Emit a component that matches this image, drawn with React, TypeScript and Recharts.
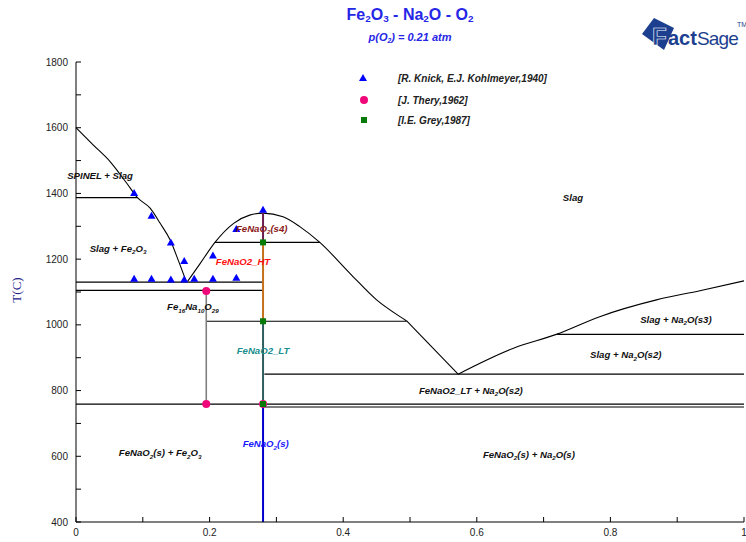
import React from "react";
import { ComposedChart, Line, Scatter, XAxis, YAxis } from "recharts";

type Pt = [number, number];

const xTicks = [0, 0.1, 0.2, 0.3, 0.4, 0.5, 0.6, 0.7, 0.8, 0.9, 1];
const yTicks = [400, 500, 600, 700, 800, 900, 1000, 1100, 1200, 1300, 1400, 1500, 1600, 1700, 1800];

// liquidus branches
const liquidusLeft: Pt[] = [
  [0, 1600], [0.026, 1547], [0.051, 1497], [0.076, 1431], [0.092, 1387],
  [0.111, 1355], [0.126, 1309], [0.141, 1258], [0.153, 1197], [0.165, 1132],
];
const liquidusMid: Pt[] = [
  [0.167, 1132], [0.186, 1187], [0.208, 1251], [0.236, 1309], [0.26, 1334],
  [0.28, 1340], [0.31, 1329], [0.335, 1299], [0.365, 1251], [0.41, 1157],
  [0.45, 1076], [0.485, 1025], [0.495, 1012],
];
const liquidusDip: Pt[] = [[0.495, 1012], [0.572, 850]];
const liquidusRight: Pt[] = [
  [0.572, 850], [0.655, 929], [0.719, 971], [0.784, 1025], [0.869, 1076],
  [0.934, 1104], [1, 1134],
];

// tie lines: [from x, to x, T]
const tieLines: [number, number, number][] = [
  [0, 0.092, 1387],
  [0, 0.28, 1130],
  [0, 0.28, 1105],
  [0.208, 0.365, 1251],
  [0.195, 0.495, 1011],
  [0.72, 1, 971],
  [0.282, 1, 850],
  [0, 1, 759],
  [0.282, 1, 750],
];

// Fe16Na10O29 line
const fe16X = 0.195;
const fe16T: [number, number] = [1105, 759];

// FeNaO2 compound line, split by phase
const fenao2X = 0.28;
const fenao2Levels = [1340, 1251, 1011, 759, 400];
const fenao2Colors = ["#6b1d4f", "#c4701c", "#2f5e5e", "#0000cc"];

// experimental data
const knickX = [0.087, 0.113, 0.142, 0.162, 0.205, 0.24, 0.28, 0.087, 0.113, 0.142, 0.162, 0.177, 0.205, 0.24];
const knickT = [1401, 1332, 1251, 1194, 1211, 1292, 1350, 1140, 1140, 1138, 1138, 1140, 1140, 1143];
const theryX = [0.195, 0.195, 0.28];
const theryT = [1103, 759, 759];
const greyX = [0.28, 0.28, 0.28];
const greyT = [1251, 1011, 759];

// region labels, {n} = subscript
const labelText = [
  "SPINEL + Slag", "Slag + Fe{2}O{3}", "Slag", "FeNaO{2}(s4)", "FeNaO2_HT",
  "Fe{16}Na{10}O{29}", "FeNaO2_LT", "Slag + Na{2}O(s3)", "Slag + Na{2}O(s2)",
  "FeNaO2_LT + Na{2}O(s2)", "FeNaO{2}(s) + Fe{2}O{3}", "FeNaO{2}(s)", "FeNaO{2}(s) + Na{2}O(s)",
];
const labelX = [0.036, 0.063, 0.744, 0.278, 0.25, 0.175, 0.28, 0.898, 0.823, 0.591, 0.126, 0.284, 0.678];
const labelT = [1453, 1231, 1386, 1292, 1191, 1054, 920, 1015, 908, 799, 610, 637, 604];
const labelColor = [
  "#111", "#111", "#111", "#8b1a1a", "#ff1010", "#111", "#1a8f8f", "#111", "#111",
  "#111", "#111", "#1a1aff", "#111",
];

const toXY = (pts: Pt[]) => pts.map(([x, y]) => ({ x, y }));
const zipXY = (xs: number[], ys: number[]) => xs.map((x, i) => ({ x, y: ys[i] }));

const labels = labelText.map((text, i) => ({ x: labelX[i], y: labelT[i], text, color: labelColor[i] }));

const FONT = "'Liberation Sans', Arial, sans-serif";
const LABEL_SIZE = 9.6;

function rich(s: string, size: number) {
  const parts = s.split(/\{(\d+)\}/);
  const out: React.ReactNode[] = [];
  let down = false;
  parts.forEach((p, i) => {
    if (i % 2 === 1) {
      out.push(<tspan key={i} dy={down ? 0 : 2.5} fontSize={size * 0.65}>{p}</tspan>);
      down = true;
    } else if (p) {
      out.push(<tspan key={i} dy={down ? -2.5 : 0}>{p}</tspan>);
      down = false;
    }
  });
  return out;
}

const LabelShape = (p: any) => (
  <text
    x={p.cx}
    y={p.cy + 3}
    textAnchor="middle"
    fontFamily={FONT}
    fontStyle="italic"
    fontWeight="bold"
    fontSize={LABEL_SIZE}
    fill={p.payload.color}
  >
    {rich(p.payload.text, LABEL_SIZE)}
  </text>
);

const Tri = (p: any) => (
  <polygon
    points={`${p.cx},${p.cy - 4} ${p.cx - 4},${p.cy + 3} ${p.cx + 4},${p.cy + 3}`}
    fill="#0000ff"
  />
);
const Dot = (p: any) => <circle cx={p.cx} cy={p.cy} r={4} fill="#f0087a" />;
const Sq = (p: any) => <rect x={p.cx - 3} y={p.cy - 3} width={6} height={6} fill="#087a08" />;

const sub = { fontSize: "62%", verticalAlign: "-0.25em", lineHeight: 0 } as const;

export default function App() {
  const lineProps = {
    dataKey: "y",
    dot: false,
    activeDot: false,
    isAnimationActive: false,
    legendType: "none" as const,
  };

  return (
    <div style={{ position: "absolute", left: 0, top: 0, width: 746, height: 542, background: "#fff" }}>
      <ComposedChart width={746} height={542} margin={{ top: 62, right: 2, bottom: 0, left: 0 }}>
        <XAxis
          type="number"
          dataKey="x"
          domain={[0, 1]}
          ticks={xTicks}
          interval={0}
          height={20}
          tickSize={-5}
          tickMargin={12}
          stroke="#000"
          tick={{ fill: "#222", fontSize: 10, fontFamily: FONT }}
          tickFormatter={(v: number, i: number) => (i % 2 === 0 ? String(v) : "")}
        />
        <XAxis
          xAxisId="top"
          orientation="top"
          type="number"
          domain={[0, 1]}
          ticks={xTicks}
          interval={0}
          height={0}
          tickSize={-5}
          stroke="#000"
          tickFormatter={() => ""}
        />
        <YAxis
          type="number"
          dataKey="y"
          domain={[400, 1800]}
          ticks={yTicks}
          interval={0}
          width={76}
          tickSize={-5}
          tickMargin={13}
          stroke="#000"
          tick={{ fill: "#222", fontSize: 10, fontFamily: FONT }}
          tickFormatter={(v: number) => (v % 200 === 0 ? String(v) : "")}
        />
        <YAxis
          yAxisId="right"
          orientation="right"
          type="number"
          domain={[400, 1800]}
          ticks={yTicks}
          interval={0}
          width={0}
          tickSize={-5}
          stroke="#000"
          tickFormatter={() => ""}
        />

        <Line {...lineProps} type="monotone" data={toXY(liquidusLeft)} stroke="#000" strokeWidth={1.1} />
        <Line {...lineProps} type="monotone" data={toXY(liquidusMid)} stroke="#000" strokeWidth={1.1} />
        <Line {...lineProps} type="linear" data={toXY(liquidusDip)} stroke="#000" strokeWidth={1.1} />
        <Line {...lineProps} type="monotone" data={toXY(liquidusRight)} stroke="#000" strokeWidth={1.1} />
        {tieLines.map(([a, b, t], i) => (
          <Line key={`tie${i}`} {...lineProps} type="linear" data={[{ x: a, y: t }, { x: b, y: t }]} stroke="#000" strokeWidth={1.2} />
        ))}
        <Line {...lineProps} type="linear" data={fe16T.map((t) => ({ x: fe16X, y: t }))} stroke="#808080" strokeWidth={1.6} />
        {fenao2Colors.map((c, i) => (
          <Line
            key={`fn${i}`}
            {...lineProps}
            type="linear"
            data={[{ x: fenao2X, y: fenao2Levels[i] }, { x: fenao2X, y: fenao2Levels[i + 1] }]}
            stroke={c}
            strokeWidth={2}
          />
        ))}

        <Scatter data={zipXY(knickX, knickT)} dataKey="y" shape={Tri} isAnimationActive={false} legendType="none" />
        <Scatter data={zipXY(theryX, theryT)} dataKey="y" shape={Dot} isAnimationActive={false} legendType="none" />
        <Scatter data={zipXY(greyX, greyT)} dataKey="y" shape={Sq} isAnimationActive={false} legendType="none" />
        <Scatter data={labels} dataKey="y" shape={LabelShape} isAnimationActive={false} legendType="none" />
      </ComposedChart>

      {/* title */}
      <div style={{ position: "absolute", left: 260, top: 5, width: 300, textAlign: "center", fontFamily: FONT, fontWeight: "bold", fontSize: 16, color: "#2626e6", lineHeight: "20px" }}>
        Fe<span style={sub}>2</span>O<span style={sub}>3</span> - Na<span style={sub}>2</span>O - O<span style={sub}>2</span>
      </div>
      <div style={{ position: "absolute", left: 260, top: 30, width: 300, textAlign: "center", fontFamily: FONT, fontWeight: "bold", fontStyle: "italic", fontSize: 11, color: "#2626e6", lineHeight: "14px" }}>
        p(O<span style={sub}>2</span>) = 0.21 atm
      </div>

      {/* logo */}
      <svg style={{ position: "absolute", left: 638, top: 12 }} width={108} height={42}>
        <polygon points="4,22 16,6 36,16 26,38" fill="#1d3f8f" />
        <text x={14} y={33} fontFamily={FONT} fontWeight="bold" fontSize={24} fill="#1d3f8f" stroke="#fff" strokeWidth={0.6}>F</text>
        <text x={30} y={33} fill="#1d3f8f" fontFamily={FONT}>
          <tspan fontWeight="bold" fontSize={20}>act</tspan>
          <tspan fontSize={19} letterSpacing={-0.8}>Sage</tspan>
        </text>
        <text x={99} y={15} fontFamily={FONT} fontSize={7} fill="#1d3f8f">TM</text>
      </svg>

      {/* y label */}
      <div style={{ position: "absolute", left: 4, top: 283, transform: "rotate(-90deg)", fontFamily: "'Liberation Serif', serif", fontSize: 13, color: "#26268a", lineHeight: "14px" }}>
        T(C)
      </div>

      {/* legend */}
      <svg style={{ position: "absolute", left: 355, top: 68 }} width={230} height={60}>
        <polygon points="8,6 4,13 12,13" fill="#0000ff" />
        <circle cx={9} cy={32} r={4} fill="#f0087a" />
        <rect x={6} y={49} width={6} height={6} fill="#087a08" />
        <g fontFamily={FONT} fontStyle="italic" fontWeight="bold" fontSize={10} fill="#222">
          <text x={43} y={14}>[R. Knick, E.J. Kohlmeyer,1940]</text>
          <text x={43} y={36}>[J. Thery,1962]</text>
          <text x={43} y={56}>[I.E. Grey,1987]</text>
        </g>
      </svg>
    </div>
  );
}
